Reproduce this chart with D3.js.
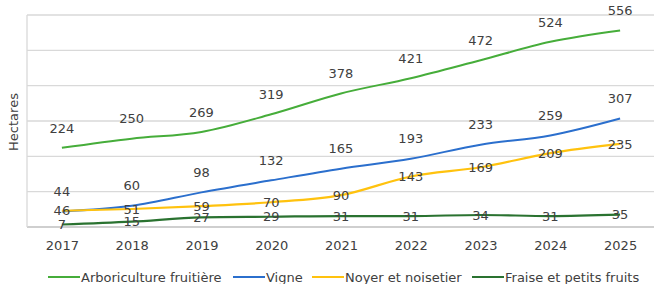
<!DOCTYPE html>
<html>
<head>
<meta charset="utf-8">
<script src="https://cdn.jsdelivr.net/npm/d3@7"></script>
<style>
  body { margin: 0; background: #fff; }
  text { font-family: "DejaVu Sans", sans-serif; fill: #404040; }
</style>
</head>
<body>
<div id="chart"></div>
<script>
// data
var years = ["2017", "2018", "2019", "2020", "2021", "2022", "2023", "2024", "2025"]
var arboriculture = [224, 250, 269, 319, 378, 421, 472, 524, 556]
var vigne = [44, 60, 98, 132, 165, 193, 233, 259, 307]
var noyer = [46, 51, 59, 70, 90, 143, 169, 209, 235]
var fraise = [7, 15, 27, 29, 31, 31, 34, 31, 35]
var yTicks = [0, 100, 200, 300, 400, 500, 600]

var series = [
  { name: "Arboriculture fruitière", values: arboriculture, color: "#46ad3a", width: 2, label: "above", legendX: 48 },
  { name: "Vigne", values: vigne, color: "#2b6fcd", width: 2, label: "above", legendX: 233 },
  { name: "Noyer et noisetier", values: noyer, color: "#ffc20e", width: 2.2, label: "center", legendX: 312 },
  { name: "Fraise et petits fruits", values: fraise, color: "#2a7230", width: 2.2, label: "center", legendX: 472 }
]

var width = 654
var height = 284

var svg = d3.select("#chart")
  .append("svg")
    .attr("width", width)
    .attr("height", height)

var x = d3.scalePoint()
  .domain(years)
  .range([27, 655])
  .padding(0.5)

var y = d3.scaleLinear()
  .domain([0, 600])
  .range([227, 15])

// gridlines
svg.append("g")
  .selectAll("line")
  .data(yTicks)
  .enter()
  .append("line")
    .attr("x1", 27)
    .attr("x2", width)
    .attr("y1", d => y(d))
    .attr("y2", d => y(d))
    .attr("stroke", d => d == 0 ? "#bfbfbf" : "#d9d9d9")
    .attr("stroke-width", 1.3)

// left border of the plot
svg.append("line")
  .attr("x1", 27).attr("x2", 27)
  .attr("y1", y(600)).attr("y2", y(0))
  .attr("stroke", "#d9d9d9")
  .attr("stroke-width", 1.3)

// x axis labels
var xAxis = svg.append("g")
  .attr("transform", "translate(0," + y(0) + ")")
  .call(d3.axisBottom(x).tickSize(0).tickPadding(14))
xAxis.select(".domain").remove()
xAxis.selectAll("text")
  .style("font-family", "DejaVu Sans, sans-serif")
  .style("font-size", "13px")
  .attr("fill", "#404040")

// y axis title
svg.append("text")
  .attr("transform", "translate(18," + 122 + ") rotate(-90)")
  .attr("text-anchor", "middle")
  .style("font-size", "13px")
  .text("Hectares")

var line = d3.line()
  .x((d, i) => x(years[i]))
  .y(d => y(d))
  .curve(d3.curveMonotoneX)

series.forEach(function(s) {
  svg.append("path")
    .datum(s.values)
    .attr("fill", "none")
    .attr("stroke", s.color)
    .attr("stroke-width", s.width)
    .attr("d", line)
})

// data labels, drawn after all lines
series.forEach(function(s) {
  svg.append("g")
    .selectAll("text")
    .data(s.values)
    .enter()
    .append("text")
      .attr("x", (d, i) => x(years[i]))
      .attr("y", d => y(d) + (s.label == "above" ? -20 : 0))
      .attr("dy", "0.36em")
      .attr("text-anchor", "middle")
      .style("font-size", "13px")
      .text(d => d)
})

// legend
var legend = svg.append("g")
  .attr("transform", "translate(0,277)")

series.forEach(function(s) {
  var g = legend.append("g").attr("transform", "translate(" + s.legendX + ",0)")
  g.append("line")
    .attr("x1", 0).attr("x2", 32)
    .attr("y1", 0).attr("y2", 0)
    .attr("stroke", s.color)
    .attr("stroke-width", 2)
  g.append("text")
    .attr("x", 33)
    .attr("dy", "0.36em")
    .style("font-size", "13px")
    .text(s.name)
})
</script>
</body>
</html>
